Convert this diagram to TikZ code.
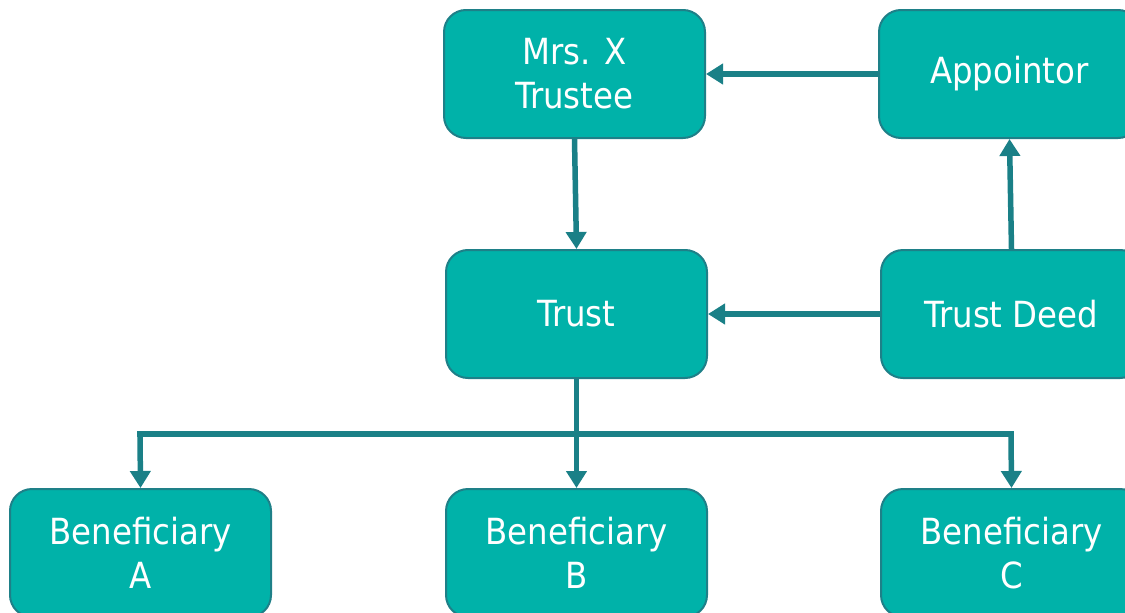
\documentclass[tikz,border=0pt]{standalone}
\usepackage{fontspec}
\setmainfont{DejaVu Sans Condensed}
\usetikzlibrary{arrows.meta}
\definecolor{boxfill}{RGB}{0,178,169}
\definecolor{boxline}{RGB}{30,128,136}
\definecolor{arrowcol}{RGB}{26,128,135}
\tikzset{
  entity/.style={draw=boxline, line width=2pt, fill=boxfill, rounded corners=22pt,
    minimum width=261pt, minimum height=128pt, text=white, align=center,
    font=\fontsize{36}{44}\selectfont, inner sep=0pt},
  link/.style={draw=arrowcol, line width=5.5pt, -{Triangle[width=20pt,length=17pt]}},
  plain/.style={draw=arrowcol, line width=5.5pt}
}
\begin{document}
\begin{tikzpicture}[x=1pt,y=-1pt]
\useasboundingbox (0,0) rectangle (1125,613);
\clip (0,0) rectangle (1125,613);
\node[entity] (mrsx) at (574.5,74) {Mrs. X\\Trustee};
\node[entity] (app) at (1009.5,74) {Appointor};
\node[entity] (trust) at (576.5,314) {Trust};
\node[entity] (deed) at (1011.5,314) {Trust Deed};
\node[entity] (ba) at (140.5,553) {Beneficiary\\A};
\node[entity] (bb) at (576.5,553) {Beneficiary\\B};
\node[entity] (bc) at (1011.5,553) {Beneficiary\\C};
\coordinate (jl) at (140,434);
\coordinate (jr) at (1011,434);
\draw[link] (app.west) -- (mrsx.east);
\draw[link] (mrsx.south) -- (trust.north);
\draw[link] (deed.west) -- (trust.east);
\draw[link] (deed.north) -- (app.south);
\draw[link] (trust.south) -- (bb.north);
\draw[plain] ([xshift=-2.75pt]jl) -- ([xshift=2.75pt]jr);
\draw[link] (jl) -- (ba.north);
\draw[link] (jr) -- (bc.north);
\end{tikzpicture}
\end{document}
